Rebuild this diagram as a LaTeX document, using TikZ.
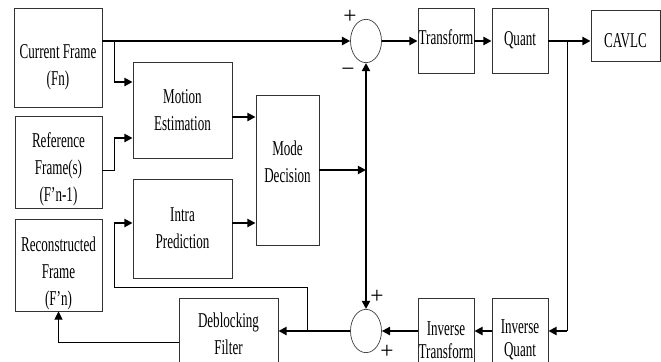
\documentclass[tikz,border=0pt]{standalone}
\usepackage{fontspec}
\setmainfont{Liberation Serif}[FakeStretch=0.62]
\newfontfamily\signfont{Liberation Serif}
\usepackage{tikz}
\usetikzlibrary{shapes.geometric, arrows.meta, positioning, calc}

\begin{document}
\begin{tikzpicture}[
  x=0.03cm, y=-0.03cm,
  blk/.style={rectangle, draw=black!80, line width=0.8pt, inner sep=0pt, align=center, font=\fontsize{18}{23}\selectfont},
  lbl/.style={inner sep=0pt, align=center, font=\fontsize{18}{23}\selectfont},
  wh/.style 2 args={minimum width=#1*0.03cm, minimum height=#2*0.03cm},
  sum/.style={ellipse, draw=black!75, line width=0.6pt, inner sep=0pt, minimum width=0.93cm, minimum height=1.3cm},
  sign/.style={font=\signfont\fontsize{20}{20}\selectfont, inner sep=0pt},
  flow/.style={line width=1.6pt},
  wire/.style={line width=0.8pt},
  arrow/.style={-{Triangle[length=7pt,width=7pt]}}
]
  \useasboundingbox (0,0) rectangle (661,362);
  \clip (0,0) rectangle (661,362);

  \node[blk, wh={88}{99}, label={[lbl, yshift=-0.3cm]center:{Current Frame\\(Fn)}}] (cur) at (58,57.5) {};
  \node[blk, wh={87}{92}, label={[lbl, yshift=-0.21cm]center:{Reference\\Frame(s)\\(F'n-1)}}] (ref) at (58.5,162) {};
  \node[blk, wh={87}{92}, label={[lbl, yshift=-0.24cm]center:{Reconstructed\\Frame\\(F'n)}}] (rec) at (58.5,265) {};
  \node[blk, wh={99}{96}] (me) at (182.5,110) {Motion\\Estimation};
  \node[blk, wh={99}{99}] (intra) at (182.5,228.5) {Intra\\Prediction};
  \node[blk, wh={63}{150}, label={[lbl, yshift=0.24cm]center:{Mode\\Decision}}] (mode) at (287.5,170) {};
  \node[blk, wh={99}{72}] (dbf) at (228.5,334) {Deblocking\\Filter};
  \node[sum] (sumA) at (366,41) {};
  \node[sum] (sumB) at (366,331) {};
  \node[blk, wh={56}{65}, label={[lbl, yshift=0.1cm]center:Transform}] (tr) at (446,40.5) {};
  \node[blk, wh={56}{65}] (qt) at (520,40.5) {Quant};
  \node[blk, wh={69}{51}, label={[lbl, yshift=-0.15cm]center:CAVLC}] (cavlc) at (625.5,35.5) {};
  \node[blk, wh={56}{84}, font=\fontsize{18}{20}\selectfont] (itr) at (446,340) {Inverse\\Transform};
  \node[blk, wh={56}{84}, font=\fontsize{18}{20}\selectfont] (iqt) at (520,340) {Inverse\\Quant};

  \node[sign] (plusA) at (350,17) {+};
  \node[sign] (minusA) at (348,72) {−};
  \node[sign] (plusB) at (377,297) {+};
  \node[sign] (plusC) at (387,352) {+};

  \coordinate (jcur) at (114,41);
  \coordinate (meinA) at (114,82);
  \coordinate (meinB) at (114,138);
  \coordinate (refout) at (114,170);
  \coordinate (meout) at (232,117);
  \coordinate (intraout) at (232,223);
  \coordinate (modeout) at (366,170);
  \coordinate (jquant) at (567,41);
  \coordinate (iqin) at (567,331);
  \coordinate (jsum) at (307,331);
  \coordinate (fbA) at (307,287);
  \coordinate (fbB) at (114,287);
  \coordinate (intrain) at (114,223);
  \coordinate (dbout) at (58.5,342);

  \draw[flow, arrow] (cur.east |- sumA.west) -- (sumA.west);
  \draw[wire] (jcur) -- (meinA);
  \draw[flow, arrow] (meinA) -- (me.west |- meinA);
  \draw[wire] (ref.east |- refout) -- (refout) -- (meinB);
  \draw[flow, arrow] (meinB) -- (me.west |- meinB);
  \draw[flow, arrow] (me.east |- meout) -- (mode.west |- meout);
  \draw[flow, arrow] (intra.east |- intraout) -- (mode.west |- intraout);
  \draw[flow, arrow] (mode.east) -- (modeout);
  \draw[flow, arrow] (modeout) -- (sumA.south);
  \draw[flow, arrow] (modeout) -- (sumB.north);
  \draw[flow, arrow] (sumA.east) -- (tr.west |- sumA.east);
  \draw[flow, arrow] (tr.east |- sumA.east) -- (qt.west |- sumA.east);
  \draw[flow, arrow] (qt.east |- jquant) -- (cavlc.west |- jquant);
  \draw[wire] (jquant) -- (iqin);
  \draw[flow, arrow] (iqin) -- (iqt.east |- iqin);
  \draw[flow, arrow] (iqt.west |- iqin) -- (itr.east |- iqin);
  \draw[flow, arrow] (itr.west |- iqin) -- (sumB.east);
  \draw[flow, arrow] (sumB.west) -- (dbf.east |- sumB.west);
  \draw[wire] (jsum) -- (fbA) -- (fbB) -- (intrain);
  \draw[flow, arrow] (intrain) -- (intra.west |- intrain);
  \draw[wire, arrow] (dbf.west |- dbout) -- (dbout) -- (rec.south);
\end{tikzpicture}
\end{document}
